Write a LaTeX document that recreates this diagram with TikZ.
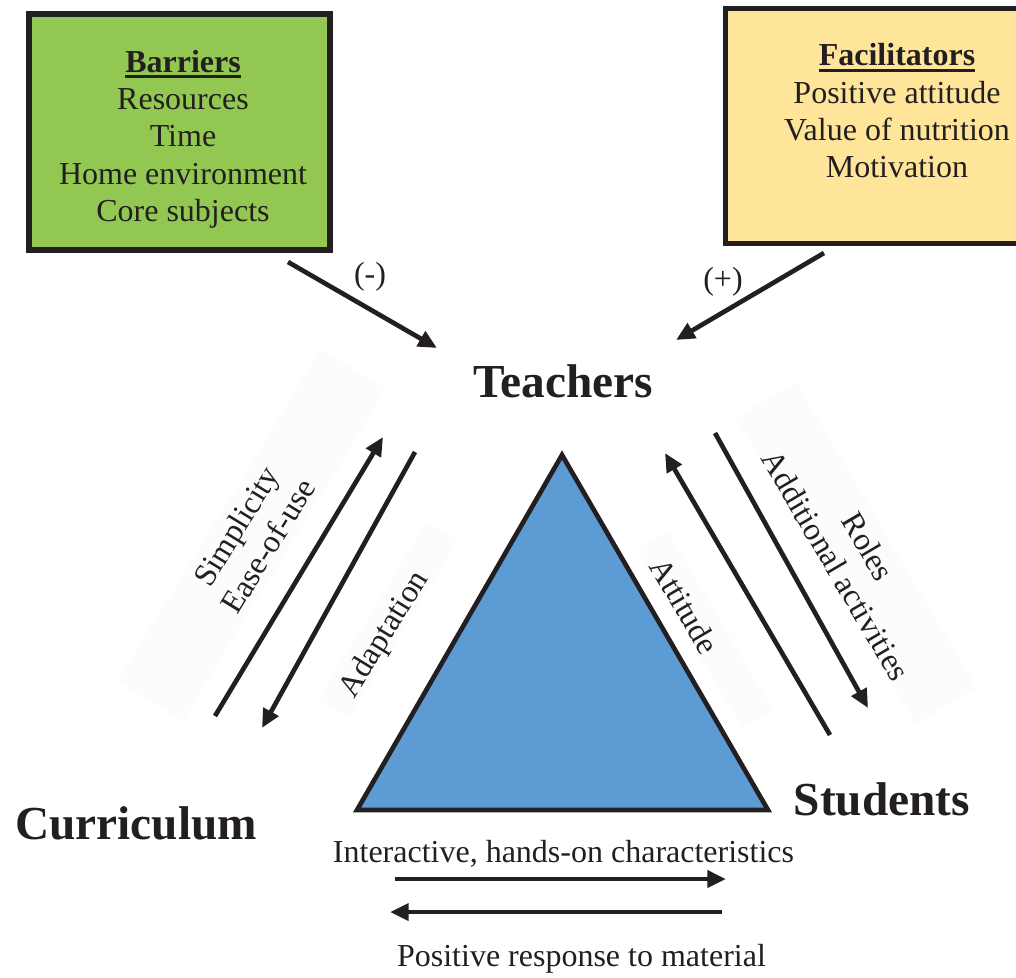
\documentclass[tikz,border=0pt]{standalone}
\usepackage{fontspec}
\setmainfont{Liberation Serif}
\usetikzlibrary{arrows.meta}
\definecolor{ink}{RGB}{35,31,32}
\definecolor{barriergreen}{RGB}{146,200,82}
\definecolor{facilyellow}{RGB}{255,229,153}
\definecolor{triblue}{RGB}{92,155,211}
\definecolor{faint}{RGB}{252,252,252}
\newcommand{\headul}[1]{\setbox0=\hbox{#1}\rlap{\color{ink}\rule[-4.5pt]{\wd0}{2pt}}\box0}
\begin{document}
\begin{tikzpicture}[x=0.75pt,y=-0.75pt,
  txt/.style={font=\fontsize{24}{28}\selectfont, text=ink, inner sep=0pt, align=center},
  big/.style={font=\fontsize{35.5}{40}\selectfont\bfseries, text=ink, inner sep=0pt},
  infobox/.style={draw=ink, line width=4pt, inner sep=0pt},
  flow/.style={draw=ink, line width=3.5pt, -{Triangle[length=14pt,width=12.5pt]}},
  shadebox/.style={fill=faint, inner sep=0pt}
]
\useasboundingbox (0,0) rectangle (1016,977);
\begin{scope}
\clip (0,0) rectangle (1016,977);
% faint backgrounds of the rotated labels
\node[shadebox, rotate=58.5, minimum width=292pt, minimum height=57pt] (shadeA) at (252,535) {};
\node[shadebox, rotate=58.5, minimum width=157pt, minimum height=27pt] (shadeB) at (388,620) {};
\node[shadebox, rotate=-59.5, minimum width=156pt, minimum height=27pt] (shadeC) at (705,630) {};
\node[shadebox, rotate=-59.5, minimum width=266pt, minimum height=53pt] (shadeD) at (856,553) {};
% boxes
\node[infobox, fill=barriergreen, minimum width=225.75pt, minimum height=177pt] (barrierbox) at (179.5,132) {};
\node[infobox, fill=facilyellow, minimum width=228.4pt, minimum height=176.25pt] (facilbox) at (877.75,126) {};
\end{scope}
\node[txt] (barriertext) at (183,139) {\headul{\textbf{Barriers}}\\Resources\\Time\\Home environment\\Core subjects};
\node[txt] (faciltext) at (897,111) {\headul{\textbf{Facilitators}}\\Positive attitude\\Value of nutrition\\Motivation};
% main labels
\node[big, anchor=base] (teachers) at (563,397) {Teachers};
\node[big, anchor=base] (curriculum) at (136,839) {Curriculum};
\node[big, anchor=base] (students) at (882,815) {Students};
% triangle
\coordinate (apex) at (562,455);
\coordinate (baseL) at (357,810);
\coordinate (baseR) at (768,810);
\draw[draw=ink, fill=triblue, line width=3.5pt, line join=miter] (apex) -- (baseL) -- (baseR) -- cycle;
% influence arrows
\coordinate (barrierstart) at (288,262);
\coordinate (barrierend) at (437,348);
\coordinate (facilstart) at (824,253);
\coordinate (facilend) at (676,340);
\draw[flow] (barrierstart) -- (barrierend);
\draw[flow] (facilstart) -- (facilend);
\node[txt] (minus) at (370,277) {(-)};
\node[txt] (plus) at (723,282) {(+)};
% curriculum <-> teachers
\coordinate (cu1) at (215,716);
\coordinate (cu2) at (383,437);
\coordinate (cd1) at (415,452);
\coordinate (cd2) at (262,728);
\draw[flow] (cu1) -- (cu2);
\draw[flow] (cd1) -- (cd2);
\node[txt, rotate=58.5] (simplicity) at (252,536) {Simplicity\\Ease-of-use};
\node[txt, rotate=58.5] (adaptation) at (385,635) {Adaptation};
% students <-> teachers
\coordinate (su1) at (830,735);
\coordinate (su2) at (665,453);
\coordinate (sd1) at (715,433);
\coordinate (sd2) at (868,708);
\draw[flow] (su1) -- (su2);
\draw[flow] (sd1) -- (sd2);
\node[txt, rotate=-59.5] (attitude) at (685,606) {Attitude};
\node[txt, rotate=-59.5] (roles) at (852,556) {Roles\\Additional activities};
% curriculum <-> students
\coordinate (h1) at (395,879);
\coordinate (h2) at (726,879);
\coordinate (h3) at (722,912);
\coordinate (h4) at (390,912);
\draw[flow] (h1) -- (h2);
\draw[flow] (h3) -- (h4);
\node[txt, anchor=base] (interactive) at (563.5,862) {Interactive, hands-on characteristics};
\node[txt, anchor=base] (positive) at (581.5,966) {Positive response to material};
\end{tikzpicture}
\end{document}
